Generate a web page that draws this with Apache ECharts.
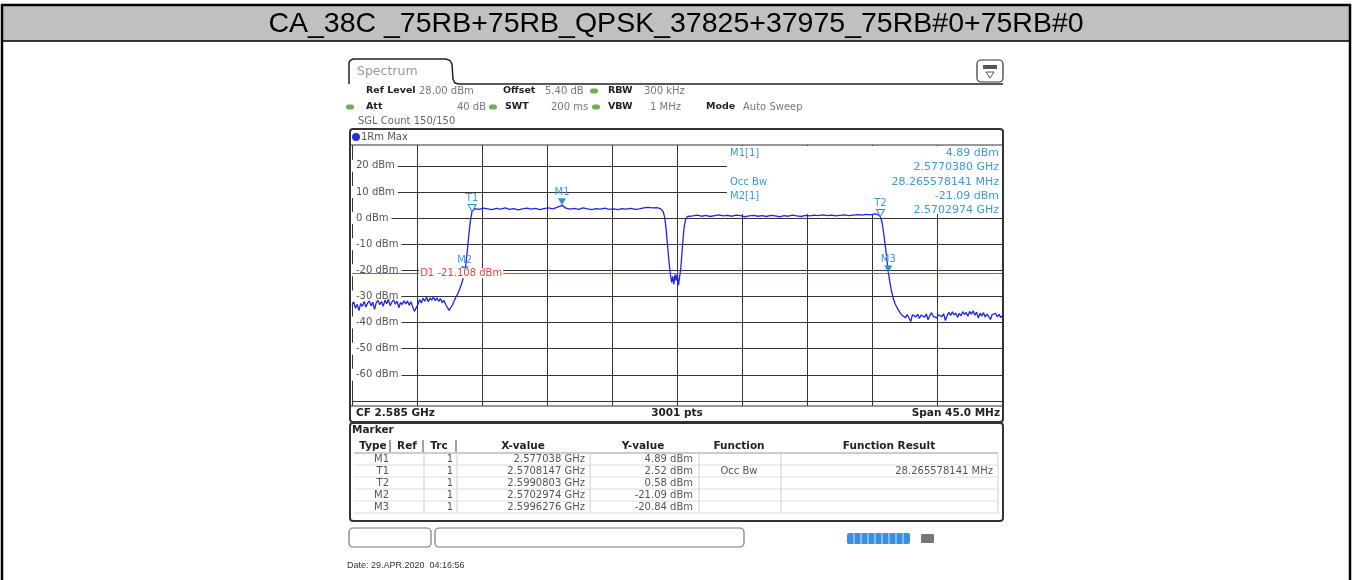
<!DOCTYPE html>
<html>
<head>
<meta charset="utf-8">
<script src="https://cdn.jsdelivr.net/npm/echarts@6/dist/echarts.min.js"></script>
<style>
  html, body { margin: 0; padding: 0; background: #fff; }
  #chart { width: 1353px; height: 580px; }
</style>
</head>
<body>
<div id="chart"></div>
<script>
// --- data ---
const centerGHz = 2.585;
const spanMHz = 45;
const levelTicks = [20, 10, 0, -10, -20, -30, -40, -50, -60];
const d1Level = -21.108;

// trace, [offset from CF in MHz, level in dBm]
const leftSkirt = [
  [-22.5,-33.2],[-22.38,-32.1],[-22.26,-34.5],[-22.14,-33.0],[-22.02,-35.4],[-21.9,-32.7],[-21.78,-33.8],
  [-21.66,-31.9],[-21.54,-34.1],[-21.42,-32.5],[-21.3,-31.7],[-21.18,-33.6],[-21.06,-32.2],[-20.94,-34.9],
  [-20.82,-32.4],[-20.7,-31.5],[-20.58,-33.2],[-20.46,-31.9],[-20.34,-33.8],[-20.22,-31.4],[-20.1,-32.8],
  [-19.98,-31.1],[-19.86,-33.5],[-19.74,-32.2],[-19.62,-31.3],[-19.5,-33.0],[-19.38,-31.8],[-19.26,-34.3],
  [-19.14,-32.3],[-19.02,-33.1],[-18.9,-31.6],[-18.78,-32.9],[-18.66,-31.7],[-18.54,-33.4],[-18.42,-32.0],
  [-18.3,-34.0],[-18.18,-35.7],[-18.06,-36.3],[-17.94,-33.1],[-17.82,-31.2],[-17.7,-32.5],[-17.58,-30.7],
  [-17.46,-31.8],[-17.34,-30.3],[-17.22,-32.0],[-17.1,-30.6],[-16.98,-31.4],[-16.86,-30.1],[-16.74,-31.6],
  [-16.62,-30.5],[-16.5,-31.9],[-16.38,-30.8],[-16.26,-32.3],[-16.14,-31.5],[-16.02,-33.0],[-15.9,-34.2],
  [-15.78,-35.3],[-15.66,-34.8],[-15.54,-33.2],[-15.42,-31.6],[-15.3,-30.2],[-15.18,-29.0],[-15.06,-27.3],
  [-14.94,-25.6],[-14.82,-23.4],[-14.7,-21.1],[-14.6,-16.8],[-14.5,-11.5],[-14.4,-5.8],[-14.3,-0.9],[-14.19,2.52]
];
const carrier1 = [
  [-14.0,3.6],[-13.7,3.3],[-13.4,3.8],[-13.1,3.5],[-12.8,3.2],[-12.5,3.7],[-12.2,3.4],[-11.9,3.9],[-11.6,3.3],
  [-11.3,3.6],[-11.0,3.1],[-10.7,3.5],[-10.4,3.8],[-10.1,3.4],[-9.8,3.7],[-9.5,3.2],[-9.2,3.6],[-8.9,3.9],
  [-8.6,3.5],[-8.3,4.1],[-7.96,4.89],[-7.7,3.8],[-7.4,3.4],[-7.1,3.7],[-6.8,3.3],[-6.5,3.9],[-6.2,3.5],
  [-5.9,3.2],[-5.6,3.6],[-5.3,3.4],[-5.0,3.8],[-4.7,3.3],[-4.4,3.5],[-4.1,3.2],[-3.8,3.6],[-3.5,3.4],
  [-3.2,3.7],[-2.9,3.3],[-2.6,3.5],[-2.3,3.9],[-2.0,4.1],[-1.7,3.9],[-1.4,4.0],[-1.15,3.6]
];
const notch = [
  [-0.95,2.4],[-0.85,0.2],[-0.75,-4.5],[-0.65,-10.8],[-0.55,-16.9],[-0.45,-21.8],[-0.37,-24.6],[-0.3,-22.3],
  [-0.22,-25.4],[-0.14,-21.6],[-0.06,-23.9],[0.02,-21.2],[0.1,-25.8],[0.18,-22.6],[0.26,-19.4],[0.34,-13.6],
  [0.42,-7.8],[0.5,-3.2],[0.6,-0.4],[0.72,0.6],[0.85,0.9]
];
const carrier2 = [
  [1.1,0.8],[1.4,1.1],[1.7,0.7],[2.0,1.0],[2.3,0.6],[2.6,0.9],[2.9,1.2],[3.2,0.8],[3.5,1.0],[3.8,0.7],
  [4.1,1.1],[4.4,0.9],[4.7,0.5],[5.0,0.8],[5.3,1.0],[5.6,0.7],[5.9,0.9],[6.2,0.6],[6.5,1.0],[6.8,0.8],
  [7.1,0.5],[7.4,0.9],[7.7,0.7],[8.0,1.1],[8.3,0.8],[8.6,0.6],[8.9,1.0],[9.2,0.8],[9.5,1.1],[9.8,0.9],
  [10.1,1.2],[10.4,0.9],[10.7,1.1],[11.0,0.8],[11.3,1.0],[11.6,1.2],[11.9,0.9],[12.2,1.1],[12.5,1.3],
  [12.8,1.1],[13.1,1.4],[13.4,1.2],[13.7,1.6],[13.9,1.3],[14.08,0.58]
];
const rightSkirt = [
  [14.2,-1.8],[14.32,-6.2],[14.44,-11.5],[14.54,-16.4],[14.63,-20.84],[14.74,-24.6],[14.86,-28.2],[14.98,-30.9],
  [15.1,-32.8],[15.22,-34.1],[15.34,-35.3],[15.46,-36.4],[15.58,-37.2],[15.7,-36.6],[15.82,-38.1],[15.94,-36.9],
  [16.06,-37.5],[16.18,-39.6],[16.3,-37.0],[16.42,-36.3],[16.54,-37.8],[16.66,-36.8],[16.78,-38.4],[16.9,-37.1],
  [17.02,-36.5],[17.14,-37.9],[17.26,-36.7],[17.38,-38.9],[17.5,-37.3],[17.62,-36.2],[17.74,-37.6],[17.86,-36.9],
  [17.98,-38.2],[18.1,-37.0],[18.22,-36.4],[18.34,-37.7],[18.46,-36.6],[18.58,-39.2],[18.7,-37.4],[18.82,-36.1],
  [18.94,-37.3],[19.06,-35.9],[19.18,-37.1],[19.3,-36.3],[19.42,-38.0],[19.54,-36.5],[19.66,-37.4],[19.78,-35.8],
  [19.9,-36.9],[20.02,-36.1],[20.14,-37.6],[20.26,-35.7],[20.38,-36.8],[20.5,-35.5],[20.62,-37.2],[20.74,-36.0],
  [20.86,-38.3],[20.98,-36.4],[21.1,-37.5],[21.22,-36.2],[21.34,-37.9],[21.46,-36.7],[21.58,-37.3],[21.7,-38.8],
  [21.82,-36.9],[21.94,-37.6],[22.06,-36.5],[22.18,-37.8],[22.3,-36.8],[22.42,-38.1],[22.5,-37.4]
];

// marker table
const markerNames = ['M1', 'T1', 'T2', 'M2', 'M3'];
const markerFreqGHz = [2.577038, 2.5708147, 2.5990803, 2.5702974, 2.5996276];
const markerLevels = [4.89, 2.52, 0.58, -21.09, -20.84];
const markerFunction = ['', 'Occ Bw', '', '', ''];
const markerResult = ['', '28.265578141 MHz', '', '', ''];

const trace = [].concat(leftSkirt, carrier1, notch, carrier2, rightSkirt);
const toOffset = ghz => (ghz - centerGHz) * 1000;

const FONT = "'DejaVu Sans', Verdana, sans-serif";
const BLUE_TXT = '#3a9bd5';

// small graphic helpers
function txt(x, y, s, font, fill, align) {
    return {
        type: 'text', x: x, y: y, z: 6, silent: true,
        style: { text: s, font: font, fill: fill || '#222',
                 textAlign: align || 'left', align: align || 'left',
                 textVerticalAlign: 'middle', verticalAlign: 'middle' }
    };
}
function ln(x1, y1, x2, y2, color, w, z) {
    return { type: 'line', z: z || 6, silent: true,
             shape: { x1: x1, y1: y1, x2: x2, y2: y2 },
             style: { stroke: color || '#222', lineWidth: w || 1 } };
}
function box(x, y, w, h, opts) {
    return { type: 'rect', z: opts.z || 6, silent: true,
             shape: { x: x, y: y, width: w, height: h, r: opts.r || 0 },
             style: { fill: opts.fill || 'none', stroke: opts.stroke || null, lineWidth: opts.lw || 1 } };
}
function dot(x, y) {
    return box(x, y - 2.5, 8, 5, { fill: '#6cb34f', r: 2.5 });
}

const elements = [];
// outer frame + title bar
elements.push(box(3, 6, 1346, 35, { fill: '#c0c0c0', z: 0 }));
elements.push(box(2, 5, 1348, 580, { stroke: '#000', lw: 2.5, z: 7 }));
elements.push(ln(2, 41, 1350, 41, '#000', 1.5));
elements.push(txt(676, 24, 'CA_38C _75RB+75RB_QPSK_37825+37975_75RB#0+75RB#0', "28.5px 'Liberation Sans', Arial, sans-serif", '#000', 'center'));

// spectrum tab
elements.push({ type: 'polyline', z: 6, silent: true,
    shape: { points: [[349, 84], [349, 63], [350, 60.5], [353, 59], [446, 59], [450, 60.5], [452, 64], [453, 79], [455, 83], [459, 84], [1003, 84]] },
    style: { fill: 'none', stroke: '#222', lineWidth: 1.5 } });
elements.push(txt(357, 72, 'Spectrum', '12.5px ' + FONT, '#999'));
elements.push(box(977, 60, 26, 22, { stroke: '#333', lw: 1.2, r: 4 }));
elements.push(box(983, 65, 14, 4, { fill: '#555' }));
elements.push({ type: 'polygon', z: 6, silent: true, shape: { points: [[986, 72], [994, 72], [990, 78]] },
    style: { fill: 'none', stroke: '#555', lineWidth: 1 } });

// settings header
const B10 = 'bold 9.5px ' + FONT, R11 = '11px ' + FONT, R10 = '10px ' + FONT;
elements.push(txt(366, 91, 'Ref Level', B10), txt(419, 91, '28.00 dBm', R10, '#777'),
    txt(503, 91, 'Offset', B10), txt(545, 91, '5.40 dB', R10, '#777'), dot(590, 91),
    txt(608, 91, 'RBW', B10), txt(644, 91, '300 kHz', R10, '#777'));
elements.push(dot(346, 107), txt(366, 107, 'Att', B10), txt(486, 107, '40 dB', R10, '#777', 'right'),
    dot(489, 107), txt(505, 107, 'SWT', B10), txt(551, 107, '200 ms', R10, '#777'), dot(592, 107),
    txt(608, 107, 'VBW', B10), txt(681, 107, '1 MHz', R10, '#777', 'right'),
    txt(706, 107, 'Mode', B10), txt(743, 107, 'Auto Sweep', R10, '#777'));
elements.push(txt(358, 121, 'SGL Count 150/150', R10, '#666'));

// trace window panel
elements.push(box(350, 129, 653, 293, { stroke: '#333', lw: 2, r: 3 }));
elements.push(ln(350, 145, 1003, 145, '#333', 1.2));
elements.push(ln(350, 406, 1003, 406, '#333', 1.2));
elements.push({ type: 'circle', z: 6, silent: true, shape: { cx: 356, cy: 137, r: 4 }, style: { fill: '#2233dd' } });
elements.push(txt(361, 137, '1Rm Max', R10, '#555'));
elements.push(txt(356, 413.5, 'CF ' + centerGHz.toFixed(3) + ' GHz', 'bold 10.5px ' + FONT),
    txt(677, 413.5, '3001 pts', 'bold 10.5px ' + FONT, '#222', 'center'),
    txt(1000, 413.5, 'Span ' + spanMHz.toFixed(1) + ' MHz', 'bold 10.5px ' + FONT, '#222', 'right'));

// marker info box top-right (covers grid)
elements.push(box(727, 146, 275, 68, { fill: '#fff', z: 3 }));
elements.push(txt(730, 153, markerNames[0] + '[1]', R10, BLUE_TXT),
    txt(999, 153, markerLevels[0].toFixed(2) + ' dBm', R11, BLUE_TXT, 'right'),
    txt(999, 167, markerFreqGHz[0].toFixed(7) + ' GHz', R11, BLUE_TXT, 'right'),
    txt(730, 182, 'Occ Bw', R10, BLUE_TXT),
    txt(999, 182, markerResult[1], R11, BLUE_TXT, 'right'),
    txt(730, 196, markerNames[3] + '[1]', R10, BLUE_TXT),
    txt(999, 196, markerLevels[3].toFixed(2) + ' dBm', R11, BLUE_TXT, 'right'),
    txt(999, 210, markerFreqGHz[3].toFixed(7) + ' GHz', R11, BLUE_TXT, 'right'));

// marker table panel
elements.push(box(350, 423, 653, 98, { stroke: '#333', lw: 2, r: 3 }));
elements.push(txt(352, 430.5, 'Marker', 'bold 10.5px ' + FONT));
const headers = [['Type', 373], ['Ref', 407], ['Trc', 439], ['X-value', 523], ['Y-value', 643], ['Function', 739], ['Function Result', 889]];
headers.forEach(h => elements.push(txt(h[1], 446, h[0], 'bold 10.5px ' + FONT, '#222', 'center')));
[390, 423, 456].forEach(x => elements.push(ln(x, 440, x, 452, '#444', 1)));
elements.push(ln(354, 453, 998, 453, '#999', 1));
[424, 457, 590, 699, 781, 998].forEach(x => elements.push(ln(x, 453, x, 513, '#cfcfcf', 1)));
markerNames.forEach((name, i) => {
    const y = 459 + i * 12;
    elements.push(txt(389, y, name, R10, '#555', 'right'),
        txt(453, y, '1', R10, '#555', 'right'),
        txt(585, y, markerFreqGHz[i] + ' GHz', R10, '#555', 'right'),
        txt(693, y, markerLevels[i].toFixed(2) + ' dBm', R10, '#555', 'right'),
        txt(739, y, markerFunction[i], R10, '#555', 'center'),
        txt(993, y, markerResult[i], R10, '#555', 'right'),
        ln(354, y + 6, 998, y + 6, '#dcdcdc', 1));
});

// status bar
elements.push(box(349, 528, 82, 19, { stroke: '#777', lw: 1.2, r: 4 }));
elements.push(box(435, 528, 309, 19, { stroke: '#777', lw: 1.2, r: 4 }));
elements.push(box(847, 533, 63, 11, { fill: '#3b8fe0', r: 2 }));
[854, 861, 868, 875, 882, 889, 896, 903].forEach(x => elements.push(ln(x, 533, x, 544, '#cfe3f7', 1)));
elements.push(box(921, 534, 13, 9, { fill: '#777', r: 1 }));
elements.push(txt(347, 566, 'Date: 29.APR.2020  04:16:56', "9px 'Liberation Sans', Arial, sans-serif", '#333'));

// markers on the trace
const markPoints = markerNames.map((name, i) => {
    const hollow = name.charAt(0) === 'T';
    return {
        name: name,
        coord: [toOffset(markerFreqGHz[i]), markerLevels[i]],
        symbol: 'triangle', symbolRotate: 180, symbolSize: [8, 7], symbolOffset: [0, '-50%'],
        itemStyle: hollow ? { color: '#fff', borderColor: '#2d93d0', borderWidth: 1 } : { color: '#2d93d0' },
        label: { show: true, position: 'top', distance: 1, formatter: name, color: BLUE_TXT, fontSize: 10, fontFamily: FONT }
    };
});
markPoints.push({
    name: 'D1', coord: [-17.85, d1Level], symbolSize: 0,
    label: { show: true, position: 'right', distance: 0, formatter: 'D1 ' + d1Level.toFixed(3) + ' dBm',
             color: '#f03c3c', fontSize: 10, fontFamily: FONT, backgroundColor: '#fff', padding: [0, 1] }
});

const chart = echarts.init(document.getElementById('chart'));
chart.setOption({
    animation: false,
    backgroundColor: '#fff',
    textStyle: { fontFamily: FONT },
    grid: [
        { left: 352, top: 145, width: 650, height: 261 },
        { left: 352, top: 165.8, width: 650, height: 235.2 }
    ],
    xAxis: [
        { gridIndex: 0, type: 'value', min: -spanMHz / 2, max: spanMHz / 2, interval: 4.5,
          axisLine: { show: false }, axisTick: { show: false }, axisLabel: { show: false },
          splitLine: { show: true, lineStyle: { color: '#333', width: 1 } } },
        { gridIndex: 1, type: 'value', min: -spanMHz / 2, max: spanMHz / 2, show: false }
    ],
    yAxis: [
        { gridIndex: 0, type: 'value', min: 0, max: 1, show: false },
        { gridIndex: 1, type: 'value', position: 'left', min: -70, max: 20, interval: 10,
          axisLine: { show: false }, axisTick: { show: false }, axisLabel: { show: false },
          splitLine: { show: true, lineStyle: { color: '#333', width: 1 } } },
        { gridIndex: 1, type: 'value', position: 'left', offset: 0, min: -70, max: 20, interval: 10, z: 1,
          axisLine: { show: false }, axisTick: { show: false }, splitLine: { show: false },
          axisLabel: { inside: true, margin: 0, showMinLabel: false, color: '#555', fontSize: 10, fontFamily: FONT,
                       backgroundColor: '#fff', padding: [1, 3, 1, 4],
                       formatter: v => levelTicks.indexOf(v) >= 0 ? v + ' dBm' : '' } }
    ],
    series: [{
        type: 'line', xAxisIndex: 1, yAxisIndex: 1, z: 4,
        data: trace, showSymbol: false, symbol: 'none', clip: false,
        lineStyle: { color: '#2323e6', width: 1.3 },
        markLine: { silent: true, symbol: ['none', 'none'], label: { show: false },
                    lineStyle: { color: '#f03c3c', width: 1, type: 'solid' },
                    data: [{ yAxis: d1Level }] },
        markPoint: { silent: true, data: markPoints }
    }],
    graphic: { elements: elements }
});
</script>
</body>
</html>
